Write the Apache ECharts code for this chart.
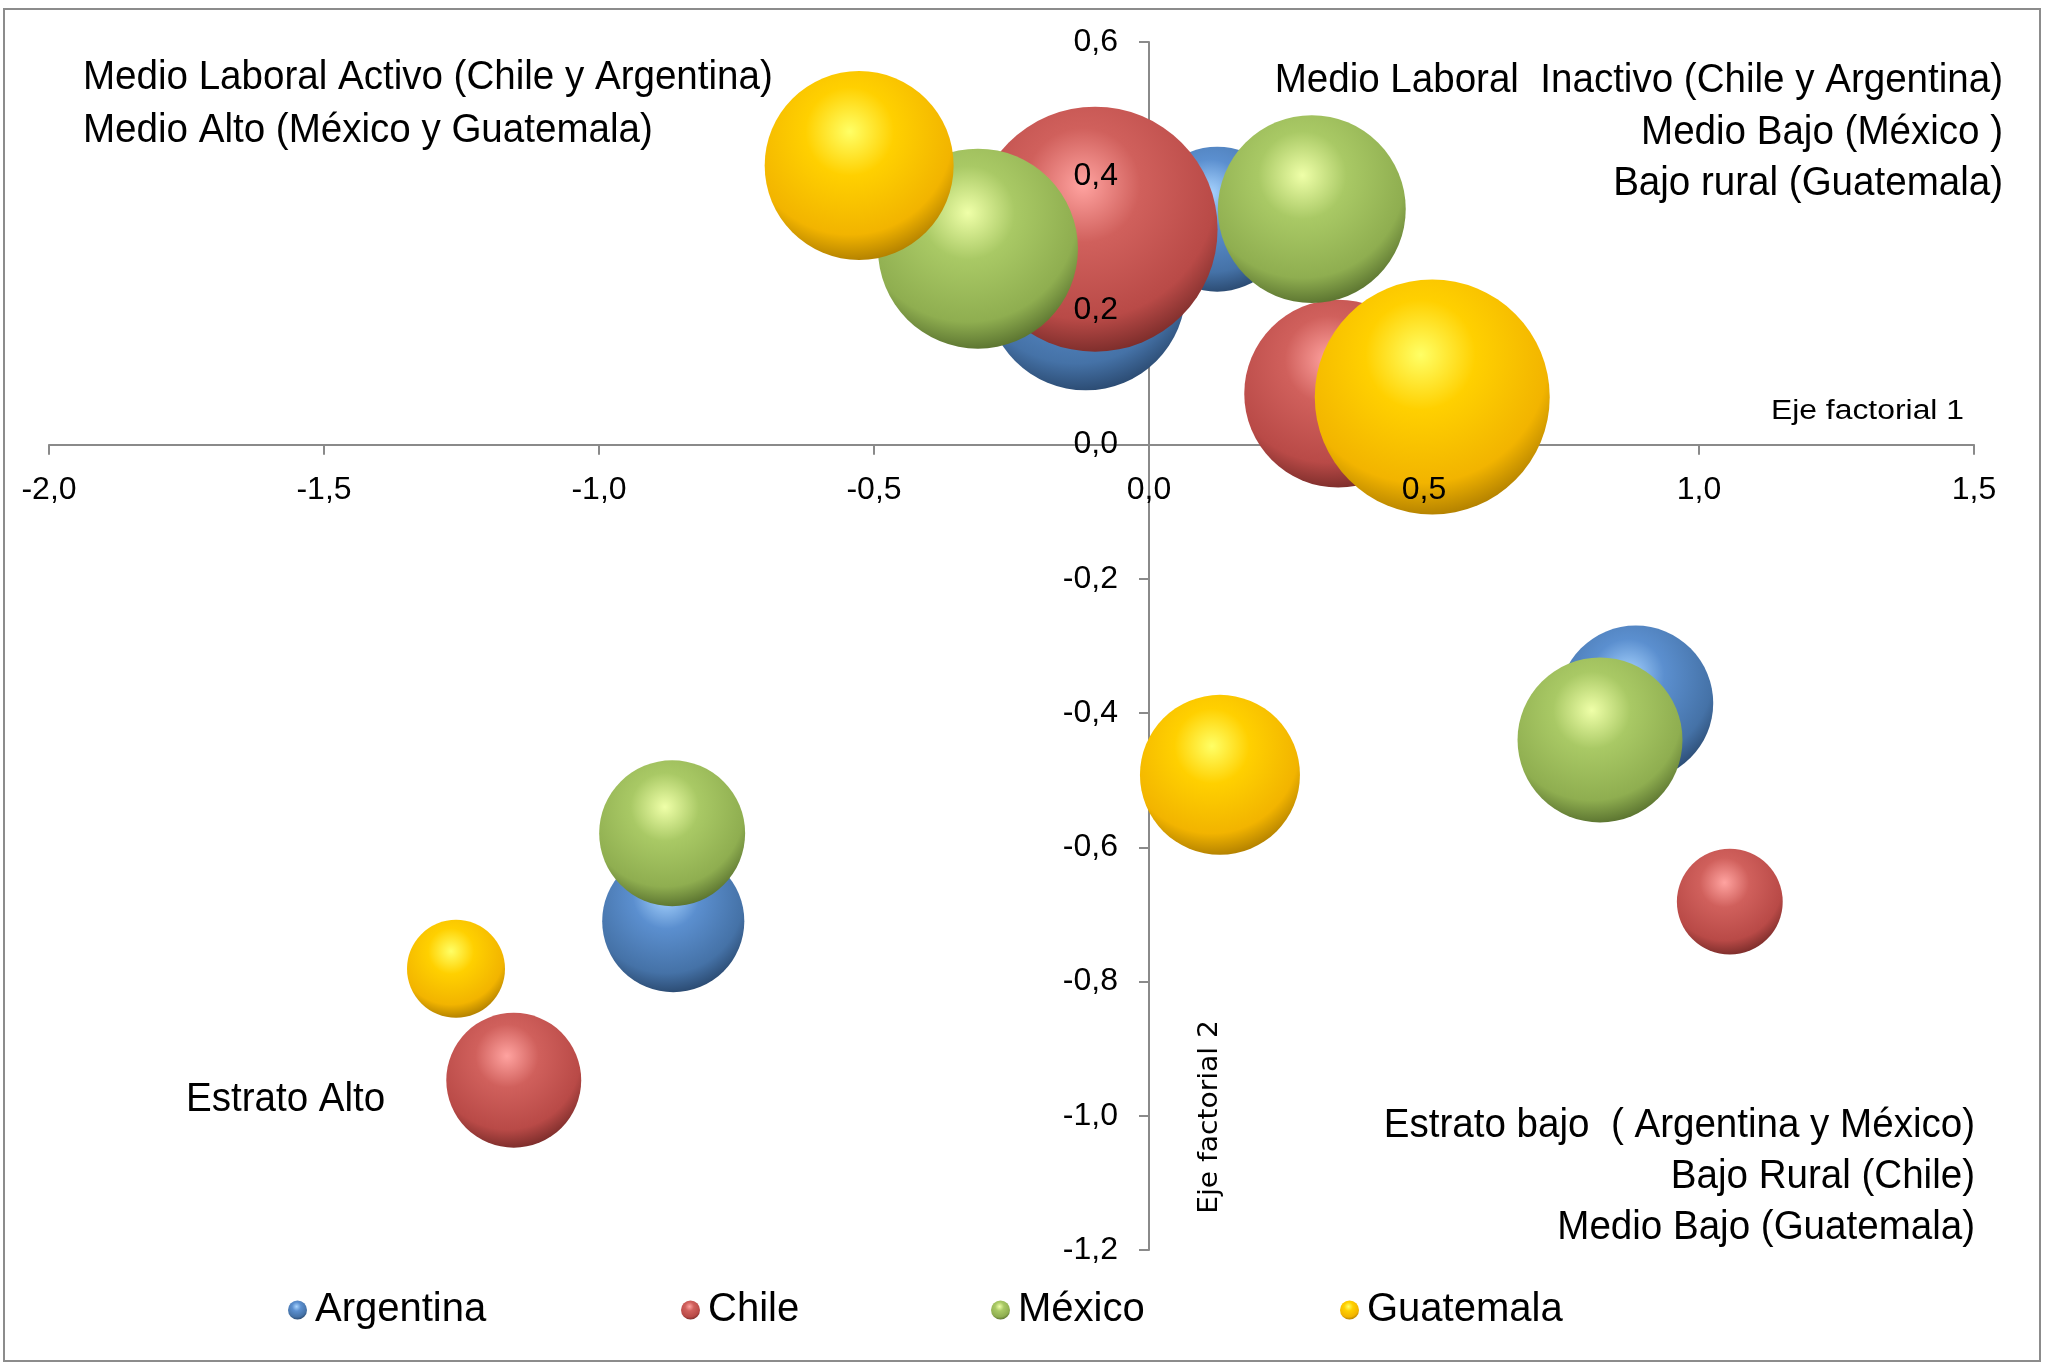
<!DOCTYPE html>
<html>
<head>
<meta charset="utf-8">
<script src="https://cdn.jsdelivr.net/npm/echarts@6/dist/echarts.min.js"></script>
<style>
html,body{margin:0;padding:0;background:#fff;}
#chart{width:2054px;height:1365px;}
</style>
</head>
<body>
<div id="chart"></div>
<script>
// Data: [Eje factorial 1, Eje factorial 2, bubble size]
const countries = ['Argentina', 'Chile', 'México', 'Guatemala'];
const argentina = [[-0.115, 0.230, 400], [0.124, 0.336, 210], [-0.865, -0.710, 202], [0.885, -0.385, 240]];
const chile     = [[-0.098, 0.321, 600], [0.344, 0.076, 353], [-1.155, -0.947, 182], [1.056, -0.681, 112]];
const mexico    = [[-0.311, 0.292, 400], [0.296, 0.351, 353], [-0.867, -0.579, 213], [0.820, -0.440, 272]];
const guatemala = [[-0.527, 0.416, 357], [0.515, 0.071, 552], [-1.260, -0.781, 96], [0.129, -0.492, 256]];
const xTicks = { min: -2.0, max: 1.5, interval: 0.5 };
const yTicks = { min: -1.2, max: 0.6, interval: 0.2 };

const seriesData = [argentina, chile, mexico, guatemala];
const palette = [
  ['#a8d4ff', '#5b8fcf', '#4572a7', '#1b3250'],
  ['#ffa3a0', '#d0605c', '#b94a47', '#561b19'],
  ['#efffa8', '#a9c965', '#8fae50', '#3a4f1c'],
  ['#ffff66', '#ffd000', '#f2b400', '#8a6000']
];
function sphere(c) {
  return {
    type: 'radial', x: 0.45, y: 0.32, r: 0.78,
    colorStops: [
      { offset: 0, color: c[0] },
      { offset: 0.3, color: c[1] },
      { offset: 0.7, color: c[2] },
      { offset: 1, color: c[3] }
    ]
  };
}
const FONT = '"Liberation Sans", Arial, sans-serif';
const fmt = v => Number(v).toFixed(1).replace('.', ',');

const axisLineStyle = { color: '#8a8a8a', width: 2 };
const GRID = { left: 49, right: 80, top: 42, bottom: 115 };
const W = 2054, H = 1365;

function note(text, x, y, align, size, sx) {
  return {
    type: 'text', z: 20, silent: true, x: x, y: y, scaleX: sx, scaleY: 1,
    style: { text: text, x: 0, y: 0, textAlign: align, textVerticalAlign: 'middle', fontSize: size, fontFamily: FONT, fill: '#000' }
  };
}
const legendLeft = [288, 681, 991, 1340];

const chart = echarts.init(document.getElementById('chart'));
chart.setOption({
  animation: false,
  backgroundColor: '#ffffff',
  grid: Object.assign({ containLabel: false, outerBoundsMode: 'none' }, GRID),
  xAxis: [
    {
      type: 'value', min: xTicks.min, max: xTicks.max, interval: xTicks.interval,
      position: 'bottom', z: 0,
      axisLine: { show: true, onZero: true, onZeroAxisIndex: 0, lineStyle: axisLineStyle },
      axisTick: { show: true, length: 10, lineStyle: axisLineStyle },
      axisLabel: { show: false },
      splitLine: { show: false }
    },
    {
      type: 'value', min: xTicks.min, max: xTicks.max, interval: xTicks.interval,
      position: 'bottom', z: 10, offset: 0,
      axisLine: { show: false, onZero: false },
      axisTick: { show: false },
      axisLabel: { show: true, margin: 30, formatter: fmt, color: '#000', fontSize: 32, fontFamily: FONT },
      splitLine: { show: false }
    }
  ],
  yAxis: [
    {
      type: 'value', min: yTicks.min, max: yTicks.max, interval: yTicks.interval,
      position: 'left', z: 0,
      axisLine: { show: true, onZero: true, onZeroAxisIndex: 0, lineStyle: axisLineStyle },
      axisTick: { show: true, length: 10, lineStyle: axisLineStyle },
      axisLabel: { show: false },
      splitLine: { show: false }
    },
    {
      type: 'value', min: yTicks.min, max: yTicks.max, interval: yTicks.interval,
      position: 'left', z: 10, offset: 0,
      axisLine: { show: false, onZero: false },
      axisTick: { show: false },
      axisLabel: { show: true, margin: 31, formatter: fmt, color: '#000', fontSize: 32, fontFamily: FONT },
      splitLine: { show: false }
    }
  ],
  legend: countries.map((name, i) => ({
    data: [name],
    left: legendLeft[i], top: 1290, padding: 0,
    icon: 'circle', itemWidth: 19, itemHeight: 19,
    textStyle: { fontSize: 40, fontFamily: FONT, color: '#000', padding: [0, 0, 0, 3] }
  })),
  series: countries.map((name, i) => ({
    name: name,
    type: 'scatter',
    xAxisIndex: 0, yAxisIndex: 0,
    data: seriesData[i],
    symbolSize: d => Math.sqrt(d[2]) * 10,
    itemStyle: { color: sphere(palette[i]), opacity: 1 },
    emphasis: { disabled: true },
    z: 2 + i
  })),
  graphic: [
    { type: 'rect', z: -10, silent: true, shape: { x: 4, y: 9, width: 2036, height: 1352 }, style: { fill: 'none', stroke: '#8c8c8c', lineWidth: 2 } },
    note('Medio Laboral Activo (Chile y Argentina)', 83, 78, 'left', 41, 0.94),
    note('Medio Alto (México y Guatemala)', 83, 131, 'left', 41, 0.94),
    note('Medio Laboral  Inactivo (Chile y Argentina)', 2003, 81, 'right', 41, 0.94),
    note('Medio Bajo (México )', 2003, 133, 'right', 41, 0.94),
    note('Bajo rural (Guatemala)', 2003, 184, 'right', 41, 0.94),
    note('Estrato Alto', 186, 1100, 'left', 41, 0.94),
    note('Estrato bajo  ( Argentina y México)', 1975, 1126, 'right', 41, 0.94),
    note('Bajo Rural (Chile)', 1975, 1177, 'right', 41, 0.94),
    note('Medio Bajo (Guatemala)', 1975, 1228, 'right', 41, 0.94),
    note('Eje factorial 1', 1964, 412, 'right', 27, 1.18),
    {
      type: 'text', z: 20, silent: true, x: 1210, y: 1117, rotation: Math.PI / 2, scaleX: 1.08, scaleY: 1,
      style: { text: 'Eje factorial 2', x: 0, y: 0, textAlign: 'center', textVerticalAlign: 'middle', fontSize: 26, fontFamily: '"DejaVu Sans", sans-serif', fill: '#000' }
    }
  ]
});

// Place the label-only axes on the zero crossing of the drawn axes (labels drawn above bubbles)
const x0 = chart.convertToPixel({ xAxisIndex: 0 }, 0);
const y0 = chart.convertToPixel({ yAxisIndex: 0 }, 0);
chart.setOption({
  xAxis: [{}, { offset: -((H - GRID.bottom) - y0) }],
  yAxis: [{}, { offset: -(x0 - GRID.left) }]
});
</script>
</body>
</html>
